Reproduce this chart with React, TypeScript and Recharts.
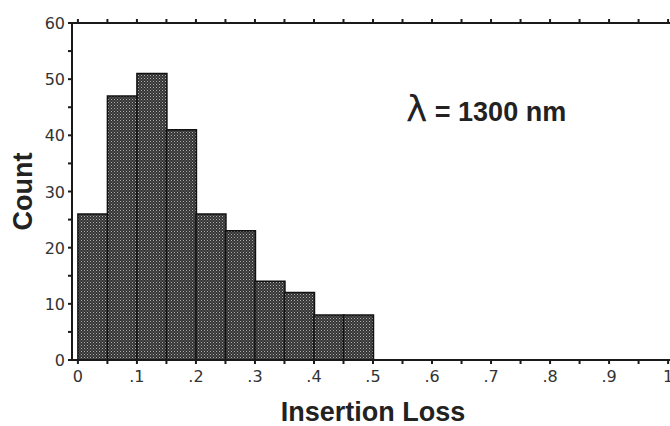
import { BarChart, Bar, XAxis, YAxis, Label } from 'recharts';

// histogram of insertion loss at 1300 nm
const binStarts = [0, 0.05, 0.1, 0.15, 0.2, 0.25, 0.3, 0.35, 0.4, 0.45];
const counts = [26, 47, 51, 41, 26, 23, 14, 12, 8, 8];
const binWidth = 0.05;

const xTicks = [0, 0.05, 0.1, 0.15, 0.2, 0.25, 0.3, 0.35, 0.4, 0.45, 0.5, 0.55, 0.6, 0.65, 0.7, 0.75, 0.8, 0.85, 0.9, 0.95, 1];
const xTickLabels = ['0', '', '.1', '', '.2', '', '.3', '', '.4', '', '.5', '', '.6', '', '.7', '', '.8', '', '.9', '', '1'];
const yTicks = [0, 5, 10, 15, 20, 25, 30, 35, 40, 45, 50, 55, 60];
const yTickLabels = ['0', '', '10', '', '20', '', '30', '', '40', '', '50', '', '60'];

const data = binStarts.map((s, i) => ({ x: s + binWidth / 2, count: counts[i] }));

const ink = '#1a1a1a';
const tickFont = { fontFamily: 'DejaVu Sans', fontSize: 16, fill: '#333' };

const XTick = ({ x, y, index }: any) => (
  <text x={x} y={y + 16} textAnchor="middle" {...tickFont}>
    {xTickLabels[index]}
  </text>
);

const YTick = ({ x, y, index }: any) => (
  <text x={x - 1} y={y + 6} textAnchor="end" {...tickFont}>
    {yTickLabels[index]}
  </text>
);

export default function App() {
  return (
    <div style={{ position: 'fixed', left: 0, top: 0, width: 670, height: 426, overflow: 'hidden', background: '#fff' }}>
      <BarChart
        width={690}
        height={426}
        data={data}
        barCategoryGap={0}
        barGap={0}
        margin={{ top: 22, right: 16, bottom: 0, left: 0 }}
      >
        <defs>
          <pattern id="stipple" width="3" height="3" patternUnits="userSpaceOnUse">
            <rect width="3" height="3" fill="#333" />
            <rect x="0" y="0" width="1" height="1" fill="#b0b0b0" />
            <rect x="1.5" y="1.5" width="1" height="1" fill="#8a8a8a" />
          </pattern>
        </defs>
        <XAxis
          xAxisId="top"
          orientation="top"
          type="number"
          dataKey="x"
          domain={[-0.01, 1.01]}
          ticks={xTicks}
          height={1}
          tickSize={4}
          tick={() => null}
          stroke={ink}
          strokeWidth={2}
          allowDataOverflow
        />
        <XAxis
          xAxisId="bottom"
          type="number"
          dataKey="x"
          domain={[-0.01, 1.01]}
          ticks={xTicks}
          height={66}
          tickSize={4}
          tick={<XTick />}
          stroke={ink}
          strokeWidth={2}
          allowDataOverflow
        >
          <Label
            value="Insertion Loss"
            position="insideBottom"
            offset={5}
            style={{ fontFamily: 'Liberation Sans', fontWeight: 'bold', fontSize: 27, fill: '#222' }}
          />
        </XAxis>
        <YAxis
          type="number"
          domain={[0, 60]}
          ticks={yTicks}
          width={72}
          tickSize={4}
          tick={<YTick />}
          stroke={ink}
          strokeWidth={2}
        >
          <Label
            value="Count"
            angle={-90}
            position="insideLeft"
            offset={22}
            style={{ fontFamily: 'Liberation Sans', fontWeight: 'bold', fontSize: 27, fill: '#222', textAnchor: 'middle' }}
          />
        </YAxis>
        <Bar
          xAxisId="bottom"
          dataKey="count"
          fill="url(#stipple)"
          stroke="#111"
          strokeWidth={1.5}
          isAnimationActive={false}
        />
      </BarChart>
      <div
        style={{
          position: 'absolute',
          left: 406,
          top: 88,
          fontFamily: 'Liberation Sans',
          fontWeight: 'bold',
          fontSize: 27,
          color: '#222',
          whiteSpace: 'nowrap',
        }}
      >
        <span style={{ fontSize: 36, fontWeight: 'normal', fontFamily: 'DejaVu Sans' }}>λ</span> = 1300 nm
      </div>
    </div>
  );
}
